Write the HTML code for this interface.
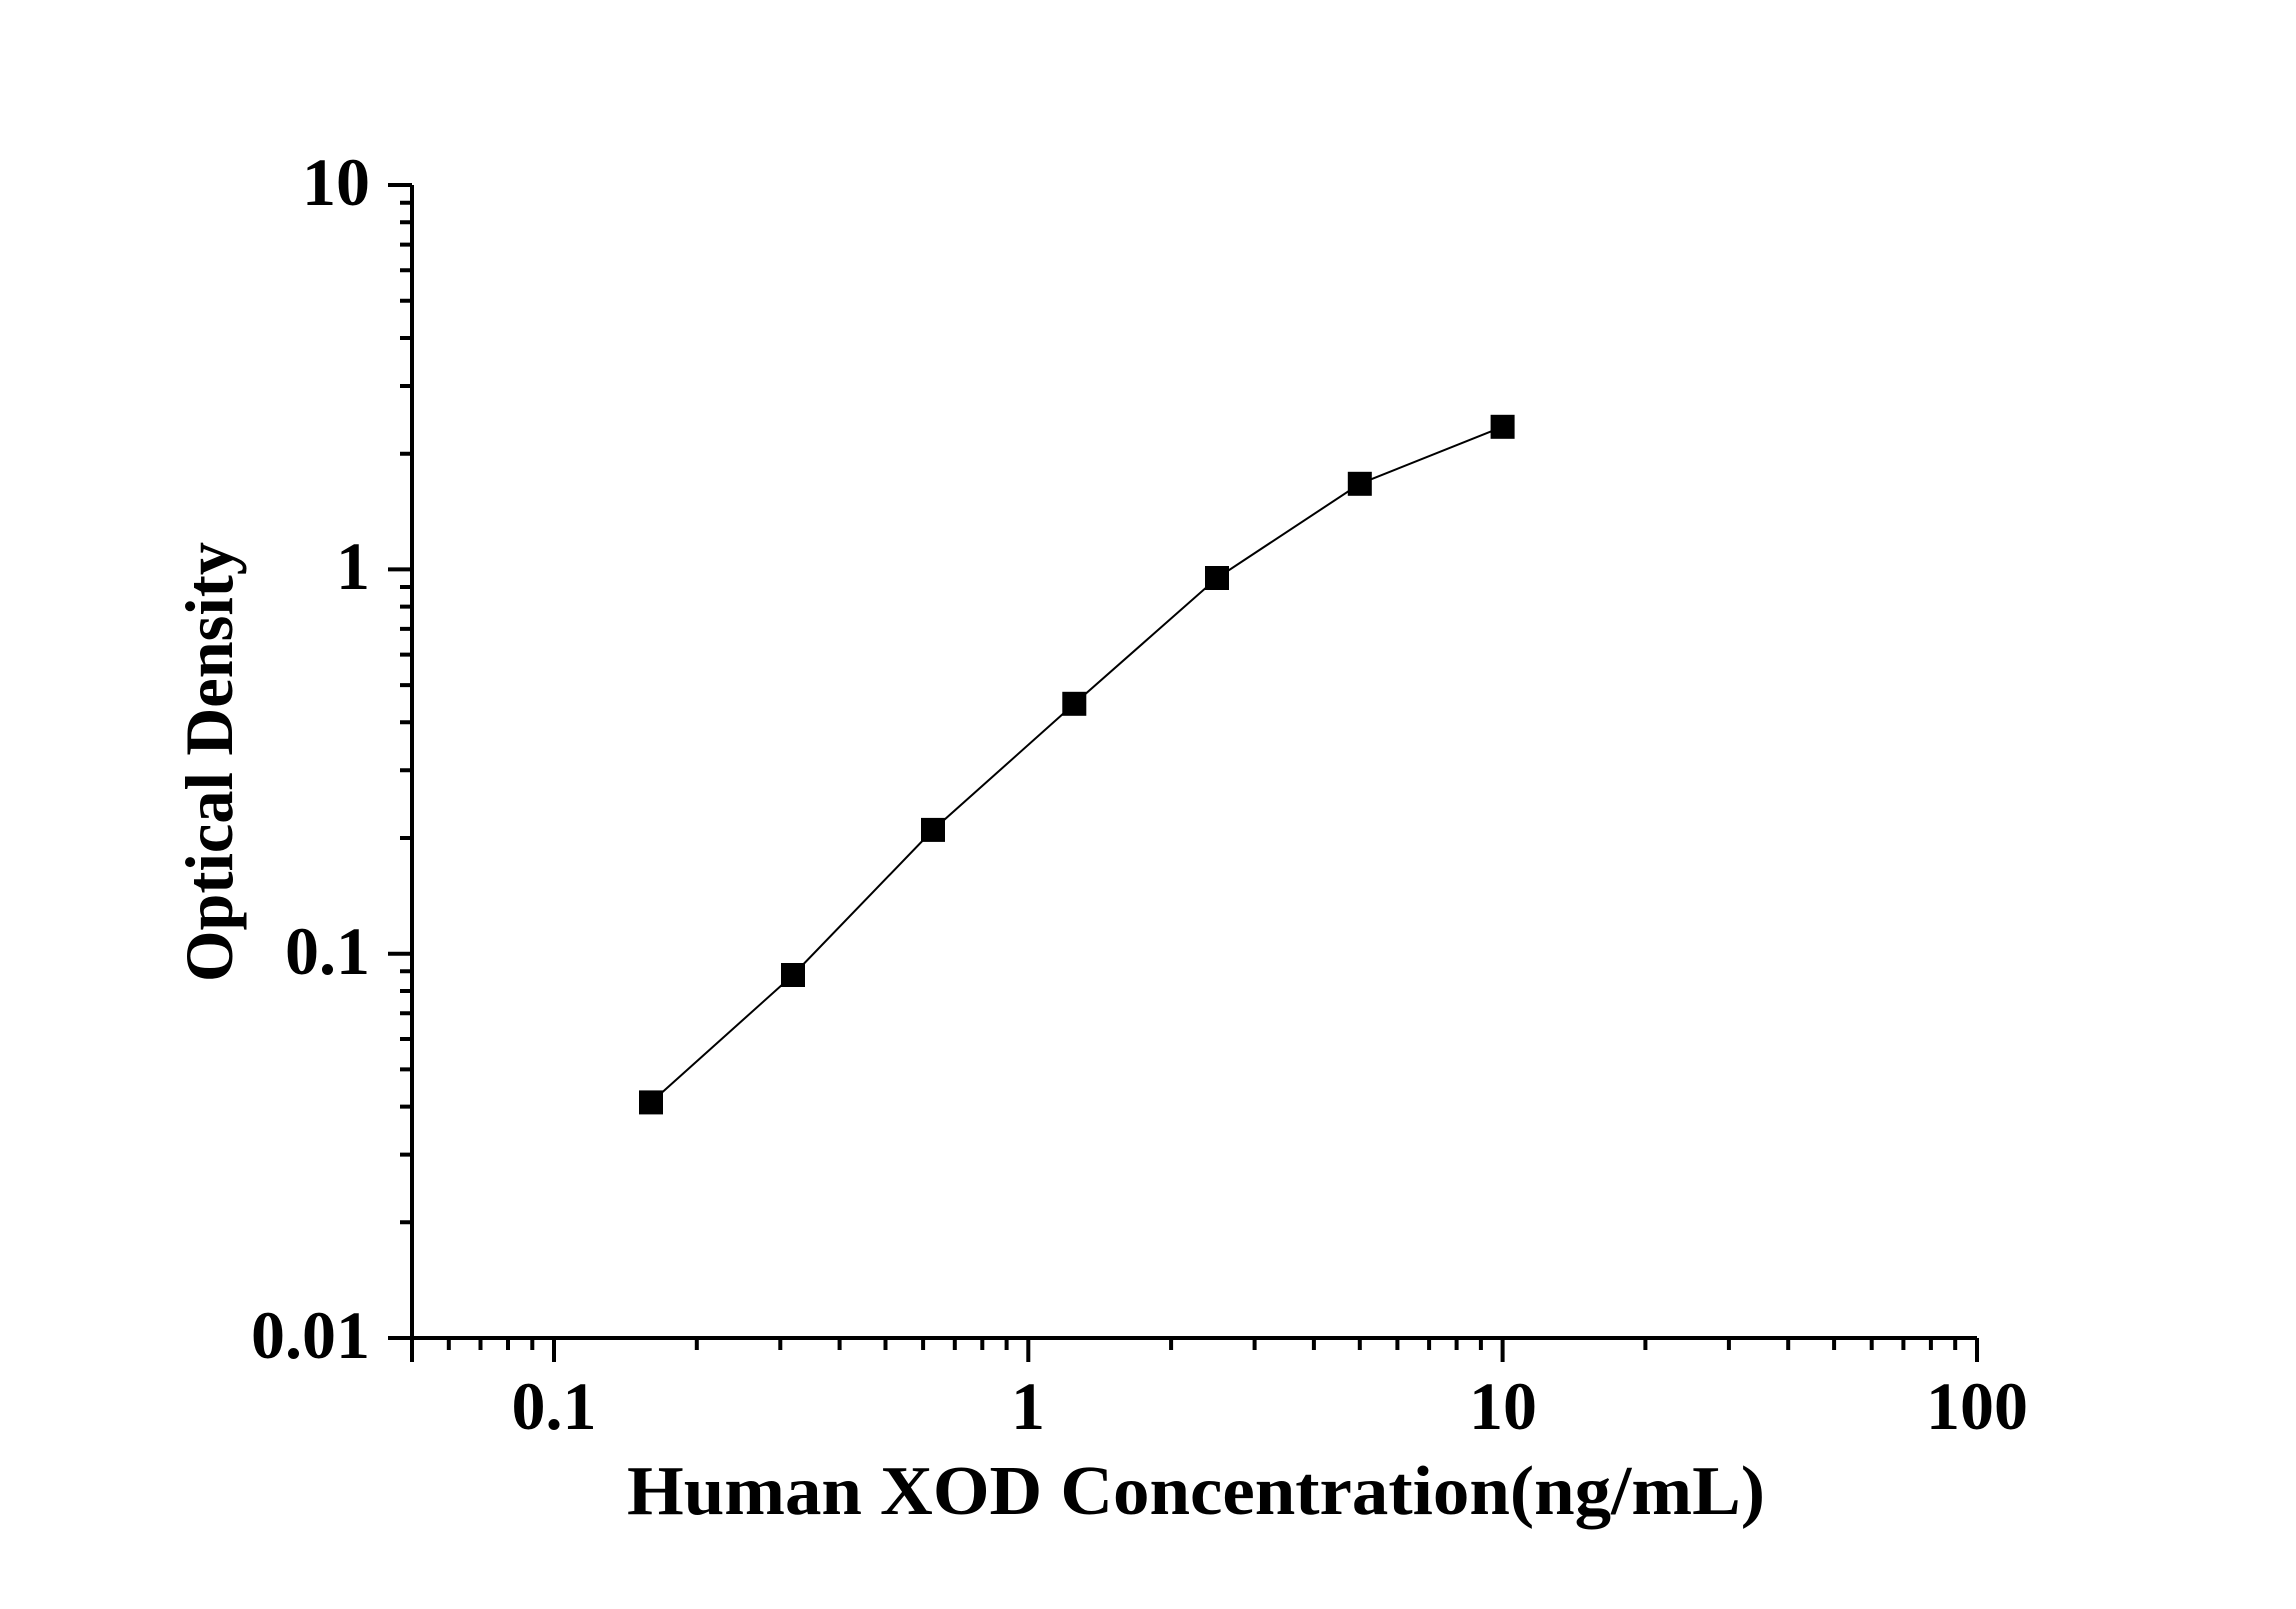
<!DOCTYPE html>
<html><head><style>html,body{margin:0;padding:0;background:#fff}</style></head><body>
<svg width="2296" height="1604" xmlns="http://www.w3.org/2000/svg" font-family="Liberation Serif, serif" font-weight="bold">
<rect width="2296" height="1604" fill="#fff"/>
<g stroke="#000" stroke-width="4" fill="none">
<path d="M412 185 V1338 H1977"/>
<path d="M412 185h-24 M412 569.4h-24 M412 953.7h-24 M412 1338h-24"/>
<path d="M412 1222.3h-12 M412 1154.6h-12 M412 1106.6h-12 M412 1069.4h-12 M412 1039h-12 M412 1013.2h-12 M412 991h-12 M412 971.3h-12
M412 838h-12 M412 770.3h-12 M412 722.3h-12 M412 685.1h-12 M412 654.6h-12 M412 628.9h-12 M412 606.6h-12 M412 587h-12
M412 453.7h-12 M412 386h-12 M412 338h-12 M412 300.8h-12 M412 270.3h-12 M412 244.6h-12 M412 222.3h-12 M412 202.7h-12"/>
<path d="M412 1338v24 M554 1338v24 M1028.3 1338v24 M1502.6 1338v24 M1977 1338v24"/>
<path d="M448.8 1338v12 M480.5 1338v12 M508 1338v12 M532.3 1338v12
M696.8 1338v12 M780.3 1338v12 M839.6 1338v12 M885.5 1338v12 M923.1 1338v12 M954.8 1338v12 M982.3 1338v12 M1006.6 1338v12
M1171.1 1338v12 M1254.6 1338v12 M1313.9 1338v12 M1359.8 1338v12 M1397.4 1338v12 M1429.1 1338v12 M1456.6 1338v12 M1480.9 1338v12
M1645.4 1338v12 M1728.9 1338v12 M1788.2 1338v12 M1834.1 1338v12 M1871.7 1338v12 M1903.4 1338v12 M1930.9 1338v12 M1955.2 1338v12"/>
</g>
<polyline fill="none" stroke="#000" stroke-width="2" points="651,1102.4 793,975 933,829.9 1074.3,703.8 1217,578 1359.8,483.8 1502.6,426.8"/>
<g fill="#000">
<rect x="639" y="1090.4" width="24" height="24"/>
<rect x="781" y="963" width="24" height="24"/>
<rect x="921" y="817.9" width="24" height="24"/>
<rect x="1062.3" y="691.8" width="24" height="24"/>
<rect x="1205" y="566" width="24" height="24"/>
<rect x="1347.8" y="471.8" width="24" height="24"/>
<rect x="1490.6" y="414.8" width="24" height="24"/>
</g>
<g font-size="68" fill="#000">
<text x="370" y="205" text-anchor="end">10</text>
<text x="370" y="589" text-anchor="end">1</text>
<text x="370" y="974" text-anchor="end">0.1</text>
<text x="370" y="1358" text-anchor="end">0.01</text>
<text x="554" y="1429" text-anchor="middle">0.1</text>
<text x="1028" y="1429" text-anchor="middle">1</text>
<text x="1503" y="1429" text-anchor="middle">10</text>
<text x="1977" y="1429" text-anchor="middle">100</text>
</g>
<text x="1196" y="1514" font-size="70" text-anchor="middle" textLength="1138" lengthAdjust="spacingAndGlyphs">Human XOD Concentration(ng/mL)</text>
<text transform="translate(232,762) rotate(-90)" font-size="68" text-anchor="middle" textLength="440" lengthAdjust="spacingAndGlyphs">Optical Density</text>
</svg>
</body></html>
